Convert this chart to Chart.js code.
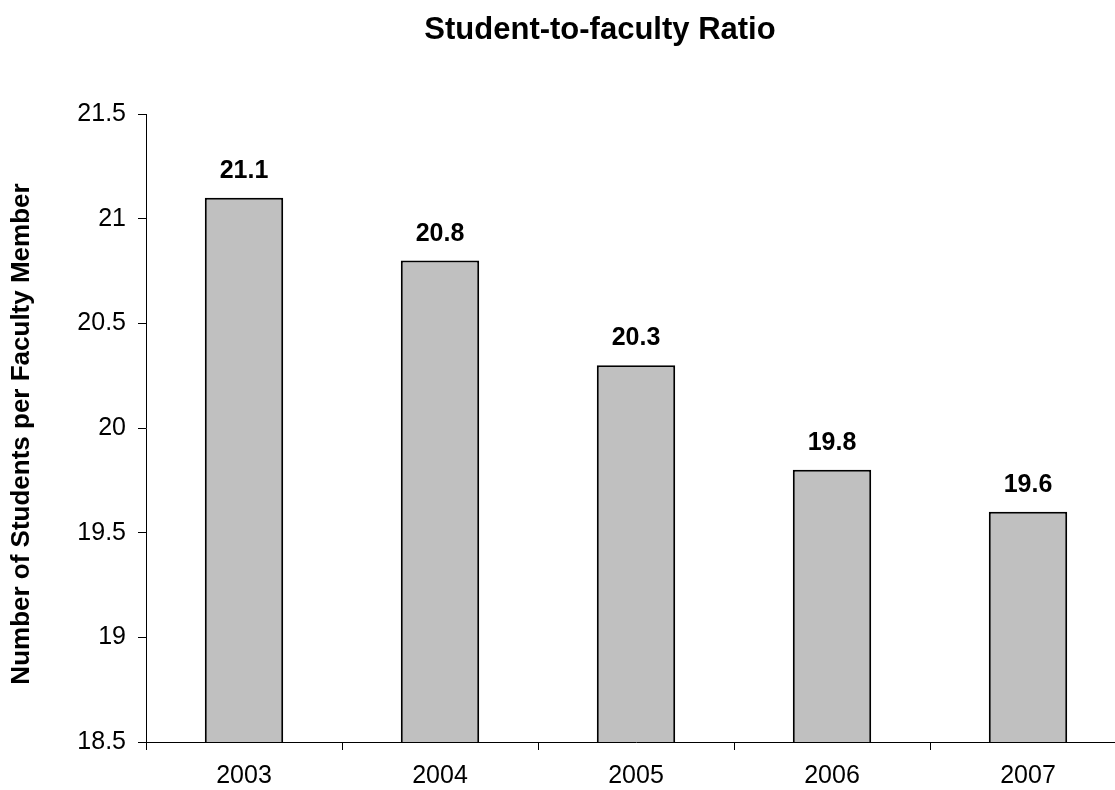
<!DOCTYPE html>
<html><head><meta charset="utf-8">
<script src="https://cdn.jsdelivr.net/npm/chart.js@4/dist/chart.umd.min.js"></script>
<style>
html,body{margin:0;padding:0;background:#fff;overflow:hidden;}
#wrap{width:1115px;height:790px;overflow:hidden;position:relative;}
#box{width:1126px;height:790px;position:absolute;left:0;top:0;}
</style></head>
<body>
<div id="wrap"><div id="box"><canvas id="c"></canvas></div></div>
<script>
const categories = ["2003", "2004", "2005", "2006", "2007"];
const ratios = [21.1, 20.8, 20.3, 19.8, 19.6];
const yMin = 18.5, yMax = 21.5, yStep = 0.5;
const chartTitle = 'Student-to-faculty Ratio';
const yTitle = 'Number of Students per Faculty Member';
const FONT = "'Liberation Sans', Arial, sans-serif";

const textPlugin = {
  id: 'texts',
  afterDatasetsDraw(chart) {
    const ctx = chart.ctx;
    const meta = chart.getDatasetMeta(0);
    const area = chart.chartArea;
    ctx.save();
    ctx.fillStyle = '#000';
    // value labels
    ctx.font = "bold 25px " + FONT;
    ctx.textAlign = 'center';
    ctx.textBaseline = 'alphabetic';
    meta.data.forEach((bar, i) => {
      ctx.fillText(ratios[i].toFixed(1), bar.x, bar.y - 20);
    });
    // chart title
    ctx.font = "bold 31px " + FONT;
    ctx.fillText(chartTitle, 600, 39);
    // y axis title
    ctx.translate(22, (area.top + area.bottom) / 2 + 6);
    ctx.rotate(-Math.PI / 2);
    ctx.font = "bold 26px " + FONT;
    ctx.textBaseline = 'middle';
    ctx.fillText(yTitle, 0, 0);
    ctx.restore();
  }
};

new Chart(document.getElementById('c'), {
  type: 'bar',
  data: {
    labels: categories,
    datasets: [{
      data: ratios,
      backgroundColor: '#c0c0c0',
      borderColor: '#000',
      borderWidth: 2,
      borderSkipped: 'bottom',
      categoryPercentage: 1.0,
      barPercentage: 0.4
    }]
  },
  options: {
    responsive: true,
    maintainAspectRatio: false,
    animation: false,
    devicePixelRatio: 1,
    layout: { padding: { left: 0, right: 0, top: 114, bottom: 0 } },
    plugins: {
      legend: { display: false },
      tooltip: { enabled: false },
      title: { display: false }
    },
    scales: {
      x: {
        offset: true,
        grid: { display: true, drawOnChartArea: false, drawTicks: true, tickLength: 8, color: '#000', offset: true },
        border: { display: true, color: '#000', width: 1 },
        ticks: { color: '#000', font: { family: FONT, size: 25 }, padding: 11, maxRotation: 0 },
        afterFit(s) { s.height = 48; }
      },
      y: {
        min: yMin, max: yMax,
        grid: { display: true, drawOnChartArea: false, drawTicks: true, tickLength: 8, color: '#000' },
        border: { display: true, color: '#000', width: 1 },
        ticks: { stepSize: yStep, color: '#000', font: { family: FONT, size: 25 }, padding: 12,
                 callback: (v) => String(v) },
        afterFit(s) { s.width = 146; }
      }
    }
  },
  plugins: [textPlugin]
});
</script>
</body></html>
